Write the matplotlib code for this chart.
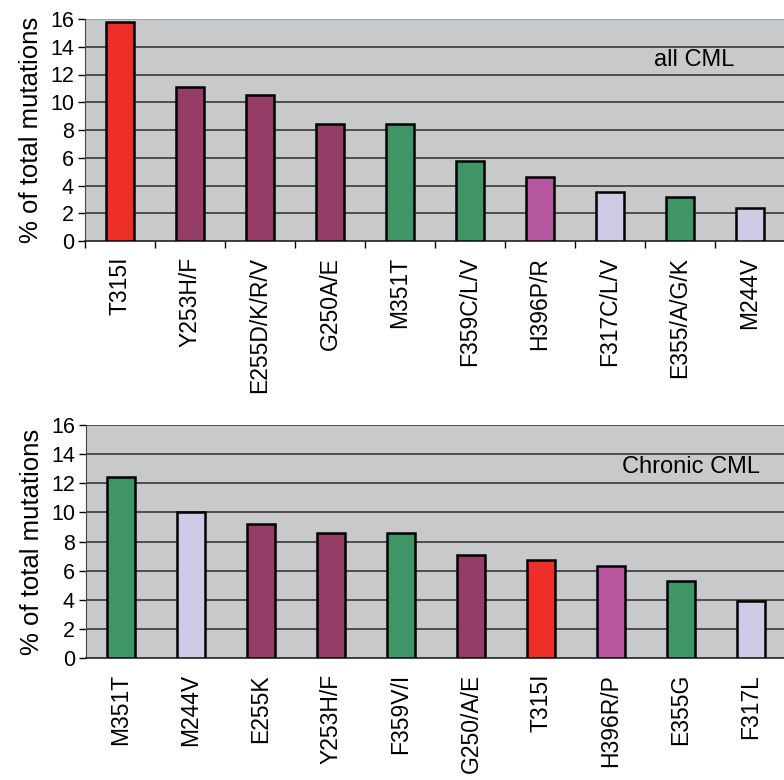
import matplotlib.pyplot as plt
import numpy as np

RED = "#ee2e29"
PURPLE = "#953d66"
GREEN = "#3f9566"
LAVENDER = "#cdcbe6"
PINK = "#b757a0"

all_labels = ["T315I", "Y253H/F", "E255D/K/R/V", "G250A/E", "M351T",
              "F359C/L/V", "H396P/R", "F317C/L/V", "E355/A/G/K", "M244V"]
all_values = [15.8, 11.1, 10.5, 8.4, 8.4, 5.8, 4.6, 3.5, 3.2, 2.4]
all_colors = [RED, PURPLE, PURPLE, PURPLE, GREEN,
              GREEN, PINK, LAVENDER, GREEN, LAVENDER]

chronic_labels = ["M351T", "M244V", "E255K", "Y253H/F", "F359V/I",
                  "G250/A/E", "T315I", "H396R/P", "E355G", "F317L"]
chronic_values = [12.4, 10.0, 9.2, 8.6, 8.6, 7.1, 6.7, 6.3, 5.3, 3.9]
chronic_colors = [GREEN, LAVENDER, PURPLE, PURPLE, GREEN,
                  PURPLE, RED, PINK, GREEN, LAVENDER]

y_ticks = [0, 2, 4, 6, 8, 10, 12, 14, 16]

plt.rcParams["font.family"] = ["Liberation Sans", "DejaVu Sans"]


def draw_panel(ax, labels, values, colors, title, title_pos, boundary_ticks, top_line):
    x = np.arange(len(labels)) + 0.5
    ax.set_facecolor("#c8c9cb")
    for y in y_ticks[1:]:
        ax.axhline(y, color=top_line if y == 16 else "#3a3a3a", lw=1.2, zorder=1)
    ax.bar(x, values, width=0.41, color=colors, edgecolor="black",
           linewidth=1.8, zorder=3)
    ax.set_xlim(0, len(labels))
    ax.set_ylim(0, 16)
    ax.set_yticks(y_ticks)
    ax.set_yticklabels([str(v) for v in y_ticks], fontsize=15.5)
    ax.tick_params(axis="y", length=5, width=1, pad=3)
    ax.set_xticks(x)
    ax.set_xticklabels(labels, rotation=90, fontsize=16.5)
    ax.tick_params(axis="x", length=0, pad=11.5)
    if boundary_ticks:
        ax.set_xticks(np.arange(len(labels) + 1), minor=True)
        ax.tick_params(axis="x", which="minor", length=5, width=1, color="black")
    ax.set_ylabel("% of total mutations", fontsize=18.5, labelpad=5)
    for side in ["top", "right"]:
        ax.spines[side].set_visible(False)
    ax.spines["left"].set_color("#444444")
    ax.spines["bottom"].set_color("#222222")
    ax.spines["bottom"].set_linewidth(1.2)
    ax.text(title_pos[0], title_pos[1], title, transform=ax.transAxes, ha="right",
            va="center", fontsize=17, zorder=4)


fig = plt.figure(figsize=(7.84, 7.80), dpi=100)
ax_top = fig.add_axes([85 / 784, 1 - 241 / 780, 700 / 784, 222 / 780])
ax_bot = fig.add_axes([86 / 784, 1 - 658 / 780, 700 / 784, 233 / 780])

draw_panel(ax_top, all_labels, all_values, all_colors, "all CML",
           (0.927, 0.815), True, "#9a9a9a")
draw_panel(ax_bot, chronic_labels, chronic_values, chronic_colors, "Chronic CML",
           (0.963, 0.82), False, "#3a3a3a")

fig.savefig("out.png", dpi=100)
